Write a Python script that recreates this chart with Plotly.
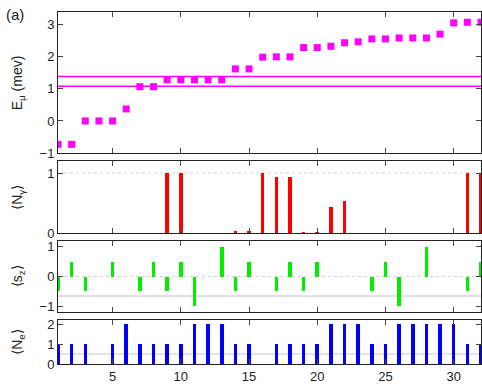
import plotly.graph_objects as go
from plotly.subplots import make_subplots

# Eigenstate index and observables
state = list(range(1, 33))
energy = [-0.73, -0.73, 0.0, 0.0, 0.0, 0.375, 1.07, 1.07, 1.28, 1.28,
          1.28, 1.28, 1.28, 1.625, 1.625, 1.99, 2.0, 2.0, 2.29, 2.29,
          2.33, 2.44, 2.47, 2.56, 2.56, 2.59, 2.59, 2.59, 2.71, 3.06,
          3.08, 3.08]
n_gamma = [0, 0, 0, 0, 0, 0, 0, 0, 1.0, 1.0,
           0, 0, 0, 0.03, 0.03, 1.0, 0.94, 0.94, 0.01, 0.01,
           0.43, 0.54, 0, 0, 0, 0, 0, 0, 0, 0,
           1.0, 1.0]
s_z = [-0.5, 0.5, -0.5, 0, 0.5, 0, -0.5, 0.5, -0.5, 0.5,
       -1.0, 0, 1.0, -0.5, 0.5, 0, -0.5, 0.5, -0.5, 0.5,
       0, 0, 0, -0.5, 0.5, -1.0, 0, 1.0, 0, 0,
       -0.5, 0.5]
n_e = [1, 1, 1, 0, 1, 2, 1, 1, 1, 1,
       2, 2, 2, 1, 1, 0, 1, 1, 1, 1,
       2, 2, 2, 1, 1, 2, 2, 2, 2, 2,
       1, 1]
# Chemical potential levels (mev)
mu_levels = [1.08, 1.385]
# Reference levels in the lower panels
sz_ref = -0.66
ne_ref = 0.5

font = "Liberation Sans, Arial, sans-serif"
fig = make_subplots(rows=4, cols=1, shared_xaxes=False, vertical_spacing=0.0)

fig.add_trace(go.Scatter(x=state, y=energy, mode="markers",
                         marker=dict(symbol="square", size=7, color="#ff00ff"),
                         cliponaxis=True, showlegend=False), row=1, col=1)
for m in mu_levels:
    fig.add_trace(go.Scatter(x=[state[0] - 1, state[-1] + 1], y=[m, m], mode="lines",
                             line=dict(color="#ff00ff", width=1.5),
                             showlegend=False), row=1, col=1)

fig.add_trace(go.Bar(x=state, y=n_gamma, width=0.26, marker=dict(color="#ff0000", line_width=0),
                     showlegend=False), row=2, col=1)
fig.add_trace(go.Bar(x=state, y=s_z, width=0.26, marker=dict(color="#00ee00", line_width=0),
                     showlegend=False), row=3, col=1)
fig.add_trace(go.Bar(x=state, y=n_e, width=0.26, marker=dict(color="#0000ff", line_width=0),
                     showlegend=False), row=4, col=1)

# Light reference lines
fig.add_shape(type="line", xref="x2 domain", yref="y2", x0=0, x1=1, y0=1, y1=1,
              line=dict(color="#d4d4d4", width=1, dash="dot"), layer="below")
fig.add_shape(type="line", xref="x3 domain", yref="y3", x0=0, x1=1, y0=0, y1=0,
              line=dict(color="#d4d4d4", width=1, dash="dot"), layer="below")
fig.add_shape(type="line", xref="x3 domain", yref="y3", x0=0, x1=1, y0=sz_ref, y1=sz_ref,
              line=dict(color="#c0c0c0", width=1), layer="below")
fig.add_shape(type="line", xref="x4 domain", yref="y4", x0=0, x1=1, y0=ne_ref, y1=ne_ref,
              line=dict(color="#c8c8c8", width=1), layer="below")

domains = [[0.5994, 1.0], [0.3722, 0.5767], [0.1477, 0.3494], [0.0, 0.125]]
yranges = [[-1, 3.4], [0, 1.2], [-1.2, 1.2], [0, 2.22]]
yticks = [[-1, 0, 1, 2, 3], [0, 1], [-1, 0, 1], [0, 1, 2]]

axis_common = dict(showline=True, linecolor="#222222", linewidth=1, mirror="allticks",
                   ticks="inside", ticklen=5, tickcolor="#444444", showgrid=False,
                   zeroline=False, tickfont=dict(family=font, size=13, color="#222222"))

for i in range(4):
    n = "" if i == 0 else str(i + 1)
    fig.layout["yaxis" + n].update(domain=domains[i], range=yranges[i],
                                   tickvals=yticks[i], **axis_common)
    fig.layout["xaxis" + n].update(range=[1, 32], tickvals=[5, 10, 15, 20, 25, 30],
                                   showticklabels=(i == 3), **axis_common)

ytitles = ["E<sub>μ</sub> (mev)", "⟨N<sub>γ</sub>⟩", "⟨s<sub>z</sub>⟩", "⟨N<sub>e</sub>⟩"]
for i, t in enumerate(ytitles):
    fig.add_annotation(text=t, xref="paper", yref="paper", x=-0.095,
                       y=(domains[i][0] + domains[i][1]) / 2, textangle=-90,
                       showarrow=False, xanchor="center", yanchor="middle",
                       font=dict(family=font, size=14, color="#222222"))

fig.add_annotation(text="(a)", xref="paper", yref="paper", x=-0.128, y=0.9915,
                   showarrow=False, xanchor="left", yanchor="middle",
                   font=dict(family=font, size=15, color="#222222"))

fig.update_layout(width=482, height=384, margin=dict(l=58, r=1, t=12, b=20),
                  plot_bgcolor="white", paper_bgcolor="white", bargap=0)

fig.write_html("out.html")
